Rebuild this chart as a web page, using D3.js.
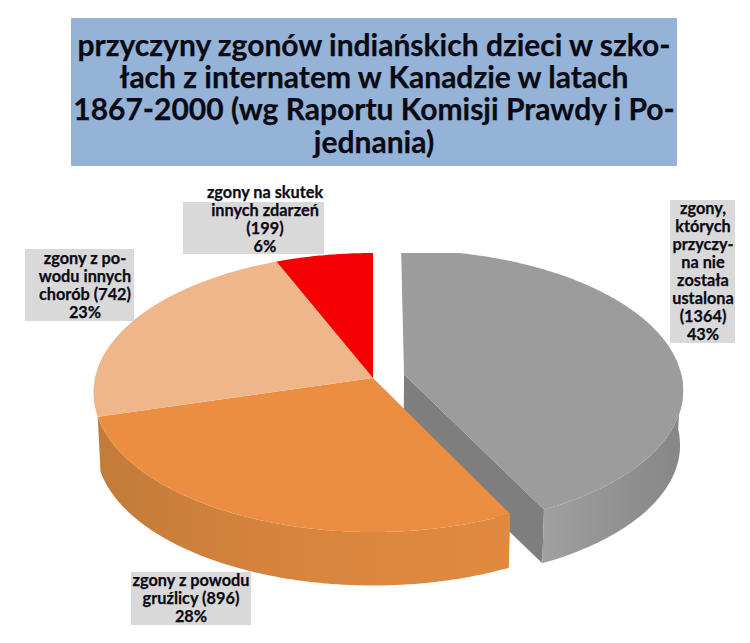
<!DOCTYPE html>
<html>
<head>
<meta charset="utf-8">
<script src="https://cdn.jsdelivr.net/npm/d3@7/dist/d3.min.js"></script>
<style>
html,body{margin:0;padding:0;background:#fff}
svg{display:block}
text{font-family:Lato,"Open Sans",sans-serif;font-weight:700;fill:#0a0a14;stroke:#0a0a14;stroke-width:0.25px}
</style>
</head>
<body>
<svg id="c" width="750" height="643"></svg>
<script>
const categories = ["nieustalona","gruźlica","inne choroby","inne zdarzenia"];
const values = [1364, 896, 742, 199];
const topColors = ["#9c9c9c","#eb8e41","#efb68a","#f50000"];
const titleLines = ["przyczyny zgonów indiańskich dzieci w szko-","łach z internatem w Kanadzie w latach","1867-2000 (wg Raportu Komisji Prawdy i Po-","jednania)"];
const labelLines = [
  ["zgony,","których","przyczy-","na nie","została","ustalona","(1364)","43%"],
  ["zgony z powodu","gruźlicy (896)","28%"],
  ["zgony z po-","wodu innych","chorób (742)","23%"],
  ["zgony na skutek","innych zdarzeń","(199)","6%"]
];
const labelBoxes = [
  {x:670,y:200,w:65,h:143,cx:703,y0:208},
  {x:131,y:572,w:120,h:53,cx:191,y0:580},
  {x:25,y:249,w:109,h:72,cx:85,y0:258},
  {x:183,y:202,w:141,h:52,cx:265,y0:192}
];

const svg = d3.select("#c");
const defs = svg.append("defs");

// title
svg.append("rect").attr("x",71).attr("y",18).attr("width",606).attr("height",148).attr("fill","#95b3d7");
svg.append("g").selectAll("text").data(titleLines).join("text")
  .attr("x",374).attr("y",(d,i)=>45+i*32.3).attr("dy","0.36em")
  .attr("text-anchor","middle").attr("font-size",30).text(d=>d);

// pie geometry
const cx=373, cy=378, R=278, Ry=138, k=0.104, explode=0.115;
const thick=55, bottomScale=0.99;
const pieData = d3.pie().sort(null).value(d=>d)(values);

function project(u,v,scale,dy){
  const p=1/(1-k*v);
  return [cx+R*u*p*scale, cy+dy+Ry*v*p*scale];
}
function offset(d,i){
  if(i!==0) return [0,0];
  const m=(d.startAngle+d.endAngle)/2;
  return [explode*Math.sin(m),-explode*Math.cos(m)];
}
function rim(a0,a1,o,scale,dy){
  const n=Math.max(2,Math.ceil((a1-a0)/0.01));
  return d3.range(n+1).map(j=>{
    const a=a0+(a1-a0)*j/n;
    return project(Math.sin(a)+o[0],-Math.cos(a)+o[1],scale,dy);
  });
}
const line=d3.line();

defs.append("clipPath").attr("id","plot").append("rect")
  .attr("x",0).attr("y",253).attr("width",750).attr("height",390);
const g=svg.append("g").attr("clip-path","url(#plot)");

const wallStops=[
  [["0","#a0a0a0"],["0.5","#929292"],["1","#868686"]],
  [["0","#c27b3a"],["0.45","#d7843d"],["1","#e08a40"]]
];
const wallRange=[[Math.PI/2,pieData[0].endAngle],[pieData[1].startAngle,pieData[1].endAngle]];
const gradX=[[545,685],[97,510]];
wallStops.forEach((st,i)=>{
  const lg=defs.append("linearGradient").attr("id","wall"+i)
    .attr("gradientUnits","userSpaceOnUse")
    .attr("x1",gradX[i][0]).attr("x2",gradX[i][1]).attr("y1",0).attr("y2",0);
  st.forEach(s=>lg.append("stop").attr("offset",s[0]).attr("stop-color",s[1]));
});

// gray slice: cut face, outer wall, top
const grayO=offset(pieData[0],0);
const grayApexT=project(grayO[0],grayO[1],1,0), grayApexB=project(grayO[0],grayO[1],bottomScale,thick);
const grayEnd=pieData[0].endAngle;
const grayCT=project(Math.sin(grayEnd)+grayO[0],-Math.cos(grayEnd)+grayO[1],1,0);
const grayCB=project(Math.sin(grayEnd)+grayO[0],-Math.cos(grayEnd)+grayO[1],bottomScale,thick);
g.append("path").attr("d",line([grayApexT,grayCT,grayCB,grayApexB])+"Z").attr("fill","#7e7e7e");

{
  const r=wallRange[0];
  const t=rim(r[0],r[1],grayO,1,0), b=rim(r[0],r[1],grayO,bottomScale,thick).reverse();
  g.append("path").attr("d",line(t.concat(b))+"Z").attr("fill","url(#wall0)");
  const d=pieData[0];
  const pts=[grayApexT].concat(rim(d.startAngle,d.endAngle,grayO,1,0));
  g.append("path").attr("d",line(pts)+"Z").attr("fill",topColors[0]);
}

// orange wall (in front of the gray slice)
{
  const r=wallRange[1];
  const t=rim(r[0],r[1],[0,0],1,0), b=rim(r[0],r[1],[0,0],bottomScale,thick).reverse();
  g.append("path").attr("d",line(t.concat(b))+"Z").attr("fill","url(#wall1)");
}
// remaining tops
pieData.slice(1).forEach((d,idx)=>{
  const pts=[project(0,0,1,0)].concat(rim(d.startAngle,d.endAngle,[0,0],1,0));
  g.append("path").attr("d",line(pts)+"Z").attr("fill",topColors[idx+1]);
});

// labels
labelBoxes.forEach((b,i)=>{
  svg.append("rect").attr("x",b.x).attr("y",b.y).attr("width",b.w).attr("height",b.h).attr("fill","#d9d9d9");
});
labelBoxes.forEach((b,i)=>{
  svg.append("g").selectAll("text").data(labelLines[i]).join("text")
    .attr("x",b.cx).attr("y",(d,j)=>b.y0+j*18).attr("dy","0.36em")
    .attr("text-anchor","middle").attr("font-size",16.3).text(d=>d);
});
</script>
</body>
</html>
